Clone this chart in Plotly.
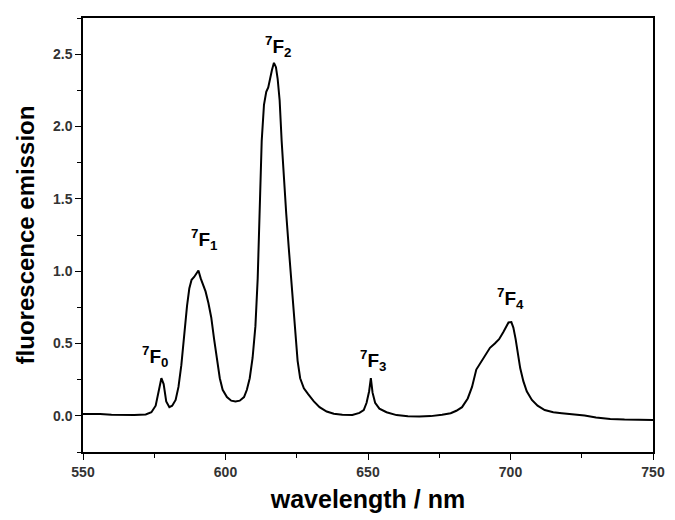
import plotly.graph_objects as go

# emission spectrum
wavelength = [
    550, 553, 556, 560, 564, 568, 572, 574, 575.5, 576.5, 577.5, 578.3, 579.2,
    580.3, 581.3, 582.5, 583.5, 584.5, 585.5, 586.5, 587.3, 588.1, 589.0, 589.8,
    590.5, 591.3, 592.2, 593.0, 594.0, 595.0, 596.0, 597.0, 598.0, 599.0, 600.5,
    602.0, 603.5, 605.0, 606.5, 607.5, 608.5, 609.5, 610.5, 611.3, 612.0, 612.7,
    613.5, 614.3, 615.0, 615.7, 616.3, 617.0, 617.7, 618.3, 619.0, 619.7, 620.5,
    621.3, 622.2, 623.2, 624.3, 625.3, 626.2, 627.5, 629.0, 631.0, 633.0, 635.5,
    638.0, 641.0, 644.5, 647.0, 648.5, 649.5, 650.4, 651.0, 651.6, 652.5, 654.0,
    656.5, 660, 664, 668, 672, 676, 679, 681, 683, 685, 686.5, 688, 689.5, 691,
    692.8, 694.5, 696, 697.5, 698.7, 699.3, 700.3, 701.0, 701.8, 702.6, 703.4,
    704.5, 705.7, 707.5, 709.5, 712, 715, 718, 722, 726, 730, 735, 740, 745, 750,
]
emission = [
    0.012, 0.014, 0.012, 0.008, 0.005, 0.005, 0.010, 0.025, 0.07, 0.17, 0.26, 0.22, 0.10,
    0.06, 0.07, 0.11, 0.20, 0.35, 0.56, 0.76, 0.88, 0.94, 0.96, 0.98,
    1.005, 0.95, 0.90, 0.86, 0.78, 0.68, 0.53, 0.39, 0.26, 0.18, 0.13,
    0.105, 0.10, 0.105, 0.13, 0.18, 0.26, 0.40, 0.62, 0.95, 1.40, 1.90,
    2.15, 2.24, 2.27, 2.34, 2.39, 2.44, 2.41, 2.33, 2.18, 1.90, 1.62,
    1.40, 1.16, 0.92, 0.60, 0.38, 0.26, 0.19, 0.15, 0.10, 0.06, 0.03,
    0.015, 0.008, 0.006, 0.02, 0.04, 0.09, 0.17, 0.26, 0.16, 0.09, 0.05,
    0.025, 0.005, -0.003, -0.005, -0.002, 0.008, 0.018, 0.035, 0.06, 0.12, 0.20, 0.32, 0.37, 0.42,
    0.47, 0.50, 0.53, 0.58, 0.62, 0.645, 0.648, 0.61, 0.53, 0.43, 0.33,
    0.24, 0.17, 0.11, 0.07, 0.04, 0.025, 0.018, 0.012, 0.002, -0.012, -0.022, -0.026, -0.028, -0.029,
]

peak_labels = ['0', '1', '2', '3', '4']
label_x = [575.3, 592.8, 618.4, 651.8, 700.0]
label_y = [0.41, 1.22, 2.55, 0.38, 0.81]

font_family = 'Arial, Liberation Sans, sans-serif'

fig = go.Figure()
fig.add_trace(go.Scatter(x=wavelength, y=emission, mode='lines',
                         line=dict(color='black', width=2), showlegend=False))

for sub, lx, ly in zip(peak_labels, label_x, label_y):
    fig.add_annotation(x=lx, y=ly, showarrow=False,
                       text=f'<b><sup>7</sup>F<sub>{sub}</sub></b>',
                       font=dict(family=font_family, size=19, color='black'))

axis_common = dict(showline=True, linecolor='black', linewidth=1.5, mirror=True,
                   ticks='outside', ticklen=6, tickwidth=1.2, tickcolor='black',
                   showgrid=False, zeroline=False,
                   tickprefix='<b>', ticksuffix='</b>',
                   tickfont=dict(family=font_family, size=14, color='#333'))

fig.update_xaxes(range=[550, 750], dtick=50, tick0=550,
                 minor=dict(dtick=25, ticks='outside', ticklen=4, tickcolor='black'),
                 title=dict(text='<b>wavelength / nm</b>', standoff=12,
                            font=dict(family=font_family, size=25, color='black')),
                 **axis_common)
fig.update_yaxes(range=[-0.25, 2.75], dtick=0.5, tick0=0, tickformat='.1f',
                 minor=dict(dtick=0.25, ticks='outside', ticklen=4, tickcolor='black'),
                 title=dict(text='<b>fluorescence emission</b>', standoff=12,
                            font=dict(family=font_family, size=24, color='black')),
                 **axis_common)

# the page body adds an 8px margin, so the figure is a little smaller
fig.update_layout(width=667, height=512, plot_bgcolor='white', paper_bgcolor='white',
                  margin=dict(l=75, r=22, t=8, b=68))

fig.write_html('out.html')
